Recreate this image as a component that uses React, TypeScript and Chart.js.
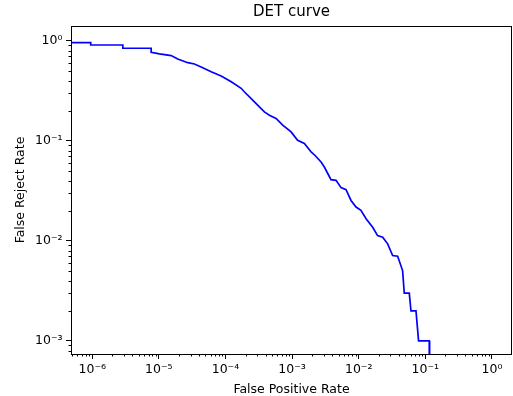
import React, { useEffect, useRef } from "react";
import { Chart, registerables } from "chart.js";

Chart.register(...registerables);

// False positive rate (x) and false reject rate (y) along the DET curve
const fprValues = [
  4e-7, 9.5e-7, 9.5e-7, 2.88e-6, 2.88e-6, 7.67e-6, 7.67e-6, 1.02e-5, 1.53e-5, 1.92e-5,
  2.72e-5, 3.42e-5, 4.56e-5, 6.1e-5, 8.61e-5, 1.22e-4, 1.72e-4, 1.92e-4, 2.72e-4, 3.84e-4,
  4.56e-4, 5.75e-4, 7.23e-4, 9.66e-4, 1.21e-3, 1.53e-3, 1.93e-3, 2.23e-3, 2.72e-3, 3.05e-3,
  3.835e-3, 4.57e-3, 5.43e-3, 6.45e-3, 7.67e-3, 9.12e-3, 1.08e-2, 1.29e-2, 1.62e-2, 1.92e-2,
  2.29e-2, 2.72e-2, 3.23e-2, 3.84e-2, 4.56e-2, 4.83e-2, 5.74e-2, 6.09e-2, 7.24e-2, 7.92e-2,
  0.1146, 0.116,
];
const frrValues = [
  0.96, 0.96, 0.91, 0.91, 0.845, 0.845, 0.77, 0.741, 0.713, 0.66,
  0.606, 0.588, 0.54, 0.492, 0.446, 0.391, 0.336, 0.31, 0.246, 0.195,
  0.181, 0.168, 0.144, 0.123, 0.1016, 0.0942, 0.0776, 0.0711, 0.0615, 0.0548,
  0.041, 0.0403, 0.0341, 0.0326, 0.0254, 0.0218, 0.0202, 0.0167, 0.0137, 0.0113,
  0.0109, 0.00935, 0.00714, 0.00703, 0.00505, 0.003, 0.003, 0.002, 0.002, 0.001,
  0.001, 1e-5,
];

const xTickValues = [1e-6, 1e-5, 1e-4, 1e-3, 1e-2, 1e-1, 1];
const xTickLabels = ["10⁻⁶", "10⁻⁵", "10⁻⁴", "10⁻³", "10⁻²", "10⁻¹", "10⁰"];
const yTickValues = [1e-3, 1e-2, 1e-1, 1];
const yTickLabels = ["10⁻³", "10⁻²", "10⁻¹", "10⁰"];

const X_MIN = 4.8e-7;
const X_MAX = 2.0;
const Y_MIN = 7.4e-4;
const Y_MAX = 1.41;

const TITLE = "DET curve";
const FONT = '"DejaVu Sans", sans-serif';

const framePlugin = {
  id: "frame",
  afterDraw(chart: any) {
    const ctx = chart.ctx;
    const { left, right, top, bottom } = chart.chartArea;
    const xs = chart.scales.x;
    const ys = chart.scales.y;
    ctx.save();
    ctx.strokeStyle = "#000";
    ctx.lineWidth = 1;
    ctx.beginPath();
    for (let e = -7; e <= 0; e++) {
      for (let m = 2; m <= 9; m++) {
        const v = m * Math.pow(10, e);
        if (v > X_MIN && v < X_MAX) {
          const p = Math.round(xs.getPixelForValue(v)) + 0.5;
          ctx.moveTo(p, bottom);
          ctx.lineTo(p, bottom + 2.5);
        }
        if (v > Y_MIN && v < Y_MAX) {
          const q = Math.round(ys.getPixelForValue(v)) + 0.5;
          ctx.moveTo(left, q);
          ctx.lineTo(left - 2.5, q);
        }
      }
    }
    ctx.stroke();
    ctx.strokeRect(Math.round(left) + 0.5, Math.round(top) + 0.5, Math.round(right - left) - 1, Math.round(bottom - top));
    ctx.fillStyle = "#000";
    ctx.font = `15px ${FONT}`;
    ctx.textAlign = "center";
    ctx.textBaseline = "middle";
    ctx.fillText(TITLE, (left + right) / 2, 12.5);
    ctx.restore();
  },
};

export default function App() {
  const ref = useRef<HTMLCanvasElement | null>(null);
  useEffect(() => {
    if (!ref.current) return;
    const points = fprValues.map((x, i) => ({ x, y: frrValues[i] }));
    const chart = new Chart(ref.current, {
      type: "line",
      data: {
        datasets: [
          {
            data: points,
            borderColor: "#0000ff",
            borderWidth: 1.7,
            pointRadius: 0,
            fill: false,
            tension: 0,
          },
        ],
      },
      options: {
        animation: false,
        responsive: false,
        parsing: false as any,
        layout: { padding: { top: 26, right: 1, left: 0, bottom: 0 } },
        plugins: { legend: { display: false }, tooltip: { enabled: false }, title: { display: false } },
        scales: {
          x: {
            type: "logarithmic",
            min: X_MIN,
            max: X_MAX,
            afterBuildTicks: (scale: any) => {
              scale.ticks = xTickValues.map((v) => ({ value: v, major: true }));
            },
            afterFit: (scale: any) => {
              scale.height = 42;
            },
            ticks: {
              autoSkip: false,
              maxRotation: 0,
              padding: 3,
              color: "#000",
              font: { family: FONT, size: 12.5 },
              callback: (value: any) => {
                const i = xTickValues.findIndex((v) => Math.abs(Math.log10(v) - Math.log10(Number(value))) < 1e-6);
                return i >= 0 ? xTickLabels[i] : "";
              },
            },
            grid: { display: true, drawOnChartArea: false, drawTicks: true, tickLength: 5, color: "#000", lineWidth: 1 },
            border: { display: false },
            title: {
              display: true,
              text: "False Positive Rate",
              color: "#000",
              font: { family: FONT, size: 12.5, lineHeight: 1 },
              padding: { top: 0, bottom: 0 },
            },
          },
          y: {
            type: "logarithmic",
            min: Y_MIN,
            max: Y_MAX,
            afterBuildTicks: (scale: any) => {
              scale.ticks = yTickValues.map((v) => ({ value: v, major: true }));
            },
            afterFit: (scale: any) => {
              scale.width = 71;
            },
            ticks: {
              autoSkip: false,
              padding: 3.5,
              color: "#000",
              font: { family: FONT, size: 12.5 },
              callback: (value: any) => {
                const i = yTickValues.findIndex((v) => Math.abs(Math.log10(v) - Math.log10(Number(value))) < 1e-6);
                return i >= 0 ? yTickLabels[i] : "";
              },
            },
            grid: { display: true, drawOnChartArea: false, drawTicks: true, tickLength: 5, color: "#000", lineWidth: 1 },
            border: { display: false },
            title: {
              display: true,
              text: "False Reject Rate",
              color: "#000",
              font: { family: FONT, size: 12.5, lineHeight: 1.2 },
              padding: { top: 13, bottom: 0 },
            },
          },
        },
      },
      plugins: [framePlugin],
    });
    return () => chart.destroy();
  }, []);
  return (
    <div style={{ position: "absolute", left: 0, top: 0, width: 513, height: 396, background: "#fff" }}>
      <canvas ref={ref} width={513} height={396} style={{ display: "block" }} />
    </div>
  );
}
